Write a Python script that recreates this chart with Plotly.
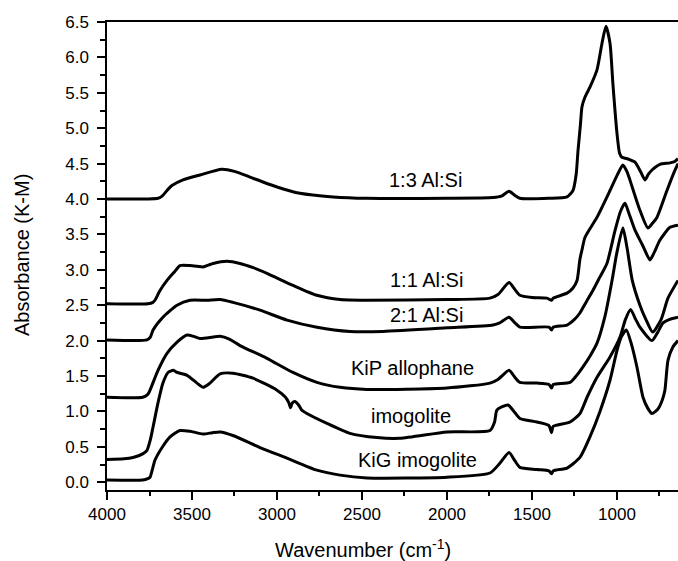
import plotly.graph_objects as go

# ---- data (wavenumber cm-1, absorbance K-M) ----
names = ["1:3 Al:Si", "1:1 Al:Si", "2:1 Al:Si", "KiP allophane", "imogolite", "KiG imogolite"]

wn_13 = [4000,3760,3700,3676,3640,3618,3553,3453,3324,3250,3159,3000,2865,2670,2470,2000,1729,1680,1635,1600,1571,1400,1294,1259,1240,1229,1215,1206,1188,1159,1118,1088,1065,1041,1024,1000,985,971,941,894,860,835,815,794,747,688,660,641]
ab_13 = [4.00,4.00,4.01,4.04,4.14,4.19,4.27,4.34,4.42,4.39,4.31,4.17,4.08,4.03,4.01,4.01,4.02,4.04,4.11,4.05,4.01,4.01,4.03,4.12,4.35,4.69,5.05,5.30,5.44,5.58,5.82,6.20,6.44,6.20,5.63,4.93,4.65,4.59,4.57,4.52,4.38,4.27,4.35,4.41,4.49,4.51,4.53,4.57]

wn_11 = [4000,3760,3730,3718,3690,3647,3600,3571,3512,3470,3435,3400,3376,3294,3218,3140,3059,2906,2765,2629,2471,2000,1747,1700,1635,1600,1571,1500,1412,1385,1375,1294,1260,1235,1218,1206,1188,1118,1041,1000,965,940,924,865,818,790,765,706,660,641]
ab_11 = [2.52,2.52,2.54,2.57,2.70,2.85,2.98,3.06,3.06,3.05,3.04,3.07,3.09,3.12,3.09,3.03,2.95,2.78,2.64,2.58,2.57,2.58,2.60,2.65,2.82,2.72,2.64,2.61,2.60,2.57,2.60,2.67,2.74,2.85,3.15,3.28,3.46,3.74,4.12,4.33,4.48,4.38,4.27,3.84,3.59,3.66,3.74,4.12,4.40,4.50]

wn_21 = [4000,3765,3745,3729,3671,3588,3512,3412,3335,3259,3100,2941,2765,2571,2376,2000,1729,1690,1635,1600,1571,1400,1385,1375,1294,1250,1218,1180,1141,1100,1059,1012,980,953,930,894,850,806,780,747,688,641]
ab_21 = [2.01,2.01,2.05,2.15,2.33,2.50,2.57,2.57,2.58,2.54,2.43,2.29,2.19,2.13,2.13,2.18,2.22,2.25,2.33,2.25,2.19,2.19,2.15,2.19,2.22,2.30,2.39,2.55,2.71,2.90,3.09,3.55,3.82,3.94,3.80,3.56,3.35,3.14,3.25,3.42,3.60,3.63]

wn_kip = [4000,3790,3760,3747,3700,3647,3588,3529,3490,3453,3376,3335,3280,3218,3059,2906,2765,2629,2471,2000,1747,1700,1635,1600,1571,1471,1400,1385,1375,1276,1240,1200,1159,1118,1070,1029,1000,965,940,910,865,830,790,740,700,641]
ab_kip = [1.20,1.20,1.24,1.30,1.58,1.82,1.98,2.08,2.06,2.03,2.05,2.06,2.02,1.93,1.75,1.55,1.41,1.34,1.31,1.33,1.40,1.45,1.58,1.48,1.41,1.40,1.38,1.33,1.38,1.41,1.50,1.63,1.78,1.96,2.35,2.85,3.25,3.59,3.30,2.85,2.50,2.30,2.12,2.30,2.60,2.85]

wn_imo = [4000,3900,3847,3790,3765,3745,3729,3700,3671,3641,3610,3588,3529,3471,3435,3394,3335,3259,3141,3000,2950,2930,2920,2910,2894,2870,2855,2824,2706,2571,2412,2276,2000,1747,1720,1706,1641,1600,1571,1471,1400,1385,1375,1276,1218,1176,1118,1041,982,950,920,890,865,794,760,729,690,641]
ab_imo = [0.32,0.33,0.35,0.40,0.45,0.60,0.78,1.12,1.40,1.55,1.58,1.55,1.51,1.40,1.34,1.40,1.53,1.54,1.47,1.30,1.20,1.12,1.05,1.12,1.14,1.08,1.02,0.97,0.83,0.69,0.63,0.62,0.71,0.73,0.85,1.02,1.09,0.98,0.90,0.85,0.80,0.70,0.79,0.85,0.97,1.20,1.48,1.77,2.05,2.30,2.44,2.30,2.19,2.00,2.12,2.25,2.30,2.33]

wn_kig = [4000,3790,3760,3747,3718,3676,3629,3571,3512,3435,3380,3335,3259,3100,2941,2765,2629,2471,2000,1747,1688,1635,1600,1571,1471,1400,1385,1375,1294,1218,1159,1100,1041,1000,975,945,915,882,847,820,794,760,735,718,700,671,641]
ab_kig = [0.03,0.03,0.05,0.07,0.31,0.49,0.64,0.73,0.72,0.68,0.70,0.71,0.66,0.49,0.34,0.17,0.10,0.06,0.07,0.13,0.27,0.42,0.30,0.21,0.18,0.16,0.12,0.16,0.20,0.35,0.64,1.00,1.44,1.86,2.05,2.15,1.95,1.62,1.20,1.05,0.97,1.03,1.15,1.30,1.72,1.91,2.00]

# label positions (data coordinates)
label_wn = [2129, 2118, 2118, 2200, 2212, 2171]
label_ab = [4.27, 2.85, 2.36, 1.62, 0.93, 0.32]

x_ticks = [4000, 3500, 3000, 2500, 2000, 1500, 1000]

series = [(wn_13, ab_13), (wn_11, ab_11), (wn_21, ab_21), (wn_kip, ab_kip), (wn_imo, ab_imo), (wn_kig, ab_kig)]

FONT = "Liberation Sans, Arial, sans-serif"

fig = go.Figure()
for name, (wx, ay) in zip(names, series):
    fig.add_trace(go.Scatter(x=wx, y=ay, mode="lines", name=name,
                             line=dict(color="black", width=3, shape="spline", smoothing=0.6),
                             showlegend=False))

for name, lx, ly in zip(names, label_wn, label_ab):
    fig.add_annotation(x=lx, y=ly, xref="x", yref="y", text=name, showarrow=False,
                       xanchor="center", yanchor="middle",
                       font=dict(family=FONT, size=20, color="black"))

fig.add_annotation(x=0.448, y=-0.124, xref="paper", yref="paper",
                   text="Wavenumber (cm<sup>-1</sup>)", showarrow=False,
                   xanchor="center", yanchor="middle",
                   font=dict(family=FONT, size=20, color="black"))
fig.add_annotation(x=-0.149, y=0.502, xref="paper", yref="paper",
                   text="Absorbance (K-M)", showarrow=False, textangle=-90,
                   xanchor="center", yanchor="middle",
                   font=dict(family=FONT, size=20, color="black"))

fig.update_xaxes(range=[4000, 641], tickvals=x_ticks, ticktext=[str(t) for t in x_ticks],
                 ticks="outside", ticklen=8, tickwidth=1.5, tickcolor="black",
                 showline=True, linewidth=1.5, linecolor="black", mirror=True,
                 showgrid=False, zeroline=False,
                 tickfont=dict(family=FONT, size=17, color="black"),
                 minor=dict(dtick=250, tick0=0, ticks="outside", ticklen=4, tickwidth=1.5, tickcolor="black", showgrid=False))
fig.update_yaxes(range=[-0.11, 6.5], dtick=0.5, tick0=0, tickformat=".1f",
                 ticks="outside", ticklen=8, tickwidth=1.5, tickcolor="black",
                 showline=True, linewidth=1.5, linecolor="black", mirror=False,
                 showgrid=False, zeroline=False, ticklabelstandoff=5,
                 tickfont=dict(family=FONT, size=17, color="black"),
                 minor=dict(dtick=0.25, tick0=0, ticks="outside", ticklen=5, tickwidth=1.5, tickcolor="black", showgrid=False))

fig.update_layout(width=678, height=561, margin=dict(l=107, r=0, t=22, b=71),
                  plot_bgcolor="white", paper_bgcolor="white",
                  font=dict(family=FONT, color="black"))

fig.write_html("out.html")
